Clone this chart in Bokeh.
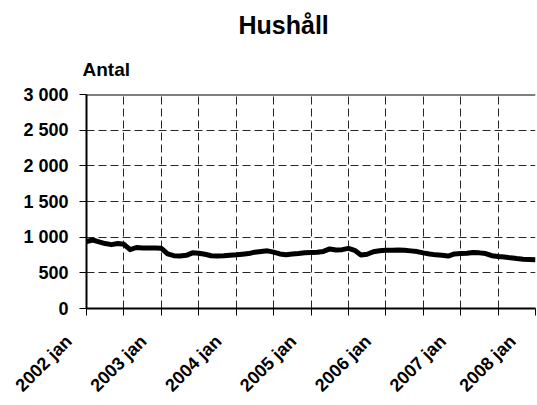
from bokeh.plotting import figure
from bokeh.models import FixedTicker, Range1d, Span, Title
from bokeh.embed import file_html
from bokeh.resources import INLINE
import math

title_text = "Hushåll"
y_label = "Antal"

# months since 2002 jan
months = list(range(73))
households = [
    940, 960, 935, 910, 895, 910, 900, 825, 855, 848, 848, 848,
    845, 765, 740, 735, 745, 780, 775, 760, 740, 735, 738, 745,
    752, 762, 770, 790, 800, 808, 790, 765, 755, 765, 772, 782,
    786, 790, 800, 835, 820, 825, 843, 815, 750, 760, 795, 810,
    818, 818, 820, 818, 808, 798, 780, 765, 752, 745, 735, 765,
    770, 775, 785, 780, 770, 740, 730, 722, 710, 700, 692, 688,
    685,
]

x_ticks = list(range(0, 73, 6))
year_tick_pos = [0, 12, 24, 36, 48, 60, 72]
year_labels = ["2002 jan", "2003 jan", "2004 jan", "2005 jan", "2006 jan", "2007 jan", "2008 jan"]
y_ticks = [0, 500, 1000, 1500, 2000, 2500, 3000]
y_tick_labels = ["0", "500", "1 000", "1 500", "2 000", "2 500", "3 000"]

FONT = "Liberation Sans"
PAD = "\u00a0" * 5  # pushes the rotated labels left of their tick, as in the original

p = figure(title=None, width=537, height=405, output_backend="svg", toolbar_location=None,
           x_range=Range1d(0, 72), y_range=Range1d(0, 3000),
           min_border_left=86, min_border_right=2, min_border_top=94, min_border_bottom=97)
p.outline_line_color = None
p.background_fill_color = "white"
p.border_fill_color = "white"

p.line(months, households, line_color="black", line_width=5, line_join="round")

# axes
p.xaxis.ticker = FixedTicker(ticks=x_ticks)
overrides = {t: "" for t in x_ticks}
for t, lab in zip(year_tick_pos, year_labels):
    overrides[t] = lab + PAD
p.xaxis.major_label_overrides = overrides
p.xaxis.major_label_orientation = math.pi / 4
p.xaxis.major_label_standoff = 5

p.yaxis.ticker = FixedTicker(ticks=y_ticks)
p.yaxis.major_label_overrides = {t: lab for t, lab in zip(y_ticks, y_tick_labels)}
p.yaxis.major_label_standoff = 11

for ax in (p.xaxis[0], p.yaxis[0]):
    ax.axis_line_color = "black"
    ax.axis_line_width = 2
    ax.major_tick_line_color = "black"
    ax.major_tick_line_width = 1
    ax.major_tick_out = 7
    ax.major_tick_in = 0
    ax.minor_tick_line_color = None
    ax.major_label_text_font = FONT
    ax.major_label_text_font_style = "bold"
    ax.major_label_text_color = "black"
    ax.major_label_text_font_size = "18px"

for g in (p.xgrid[0], p.ygrid[0]):
    g.grid_line_color = "black"
    g.grid_line_alpha = 0.85
    g.grid_line_width = 1
    g.grid_line_dash = "8 4"

p.add_layout(Span(location=3000, dimension="width", line_color="black", line_width=2))

p.add_layout(Title(text=y_label, align="left", offset=-4, standoff=30,
                   text_font=FONT, text_font_style="bold", text_font_size="19px",
                   text_color="black"), "above")
p.add_layout(Title(text=title_text, align="left", offset=152, standoff=5,
                   text_font=FONT, text_font_style="bold", text_font_size="25px",
                   text_color="black"), "above")

open("out.html", "w").write(file_html(p, INLINE))
